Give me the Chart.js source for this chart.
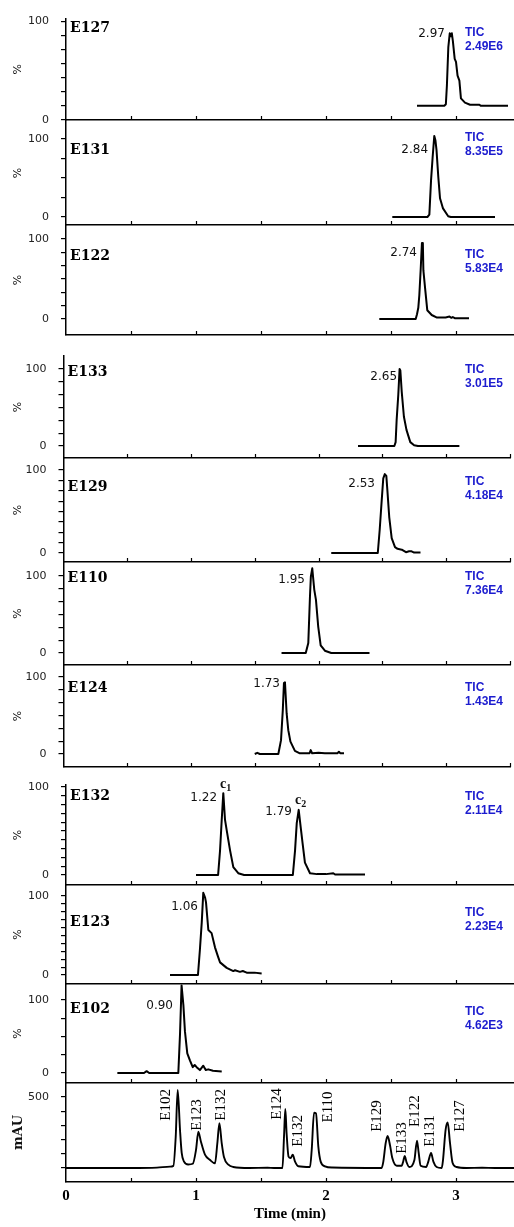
<!DOCTYPE html>
<html>
<head>
<meta charset="utf-8">
<title>Extracted ion chromatograms and UV trace</title>
<script src="https://cdn.jsdelivr.net/npm/chart.js@4.4.1/dist/chart.umd.min.js"></script>
<style>
  html, body { margin: 0; padding: 0; background: #fff; }
  #wrap { position: relative; width: 514px; height: 1227px; overflow: hidden; }
  #wrap canvas { position: absolute; left: 0; top: 0; }
</style>
</head>
<body>
<div id="wrap"></div>
<script>
// ---- data: retention time (min) and relative intensity (%) per extracted ion trace ----
const e127Time = [2.70, 2.91, 2.922, 2.93, 2.941, 2.952, 2.96, 2.968, 2.976, 2.99, 3.0, 3.012, 3.026, 3.038, 3.069, 3.108, 3.18, 3.19, 3.40];
const e127Pct  = [14.4, 14.4, 16, 35, 74, 88, 85, 88, 80, 62, 59, 45, 40, 22, 17.6, 15.5, 15.5, 14.4, 14.4];

const e131Time = [2.51, 2.78, 2.795, 2.808, 2.82, 2.833, 2.842, 2.85, 2.864, 2.877, 2.90, 2.94, 2.96, 3.30];
const e131Pct  = [0, 0, 3, 47, 76, 104, 98, 86, 51, 24, 11, 1, 0, 0];

const e122Time = [2.41, 2.69, 2.70, 2.71, 2.718, 2.728, 2.738, 2.745, 2.749, 2.762, 2.779, 2.813, 2.85, 2.92, 2.95, 2.965, 2.975, 2.99, 3.10];
const e122Pct  = [0, 0, 6, 14, 30, 61, 95, 95, 61, 39, 11, 5, 2, 2, 3, 1.5, 2.5, 1, 1];

const e133Time = [2.31, 2.595, 2.605, 2.613, 2.626, 2.636, 2.642, 2.653, 2.67, 2.69, 2.72, 2.75, 2.78, 3.105];
const e133Pct  = [0, 0, 5, 34, 67, 100, 98, 70, 38, 21, 5, 1, 0, 0];

const e129Time = [2.10, 2.465, 2.48, 2.496, 2.508, 2.52, 2.532, 2.54, 2.555, 2.574, 2.60, 2.62, 2.653, 2.686, 2.71, 2.73, 2.75, 2.80];
const e129Pct  = [0, 0, 28, 64, 90, 95, 93, 76, 43, 18, 7, 5, 4, 1, 2, 2, 0.5, 0.5];

const e110Time = [1.71, 1.90, 1.92, 1.933, 1.94, 1.951, 1.967, 1.98, 1.998, 2.017, 2.05, 2.10, 2.40];
const e110Pct  = [0, 0, 13, 73, 99, 110, 82, 69, 34, 10, 3, 0, 0];

const e124Time = [1.50, 1.52, 1.54, 1.685, 1.706, 1.72, 1.729, 1.737, 1.75, 1.763, 1.78, 1.815, 1.85, 1.93, 1.939, 1.95, 2.0, 2.05, 2.15, 2.16, 2.17, 2.20];
const e124Pct  = [0, 1.5, 0, 0, 18, 57, 92, 93, 53, 31, 16, 4, 1, 1, 5, 1, 1.5, 1, 1, 3, 1, 1];

const e132Time = [1.0, 1.17, 1.185, 1.198, 1.21, 1.223, 1.236, 1.262, 1.287, 1.325, 1.37, 1.745, 1.762, 1.775, 1.79, 1.808, 1.82, 1.838, 1.877, 1.93, 2.0, 2.056, 2.07, 2.30];
const e132Pct  = [0, 0, 28, 63, 93, 63, 51, 28, 9, 2, 0, 0, 28, 59, 74, 51, 36, 14, 2, 1, 1, 2, 0.5, 0.5];

const e123Time = [0.80, 1.015, 1.03, 1.044, 1.056, 1.07, 1.077, 1.095, 1.12, 1.146, 1.17, 1.185, 1.236, 1.287, 1.30, 1.338, 1.36, 1.39, 1.45, 1.505];
const e123Pct  = [0, 0, 32, 66, 104, 98, 92, 57, 53, 35, 23, 16, 9, 5, 6, 4, 5, 3, 3, 2];

const e102Time = [0.395, 0.60, 0.62, 0.64, 0.864, 0.877, 0.889, 0.903, 0.915, 0.933, 0.954, 0.975, 0.99, 1.005, 1.03, 1.056, 1.075, 1.095, 1.13, 1.198];
const e102Pct  = [0, 0, 2.5, 0, 0, 53, 120, 93, 57, 27, 17, 8, 11, 8, 4, 10, 4, 5, 3, 2];

// UV trace (mAU)
const uvTime = [0.0, 0.5, 0.70, 0.80, 0.826, 0.844, 0.859, 0.877, 0.89, 0.908, 0.94, 0.975, 1.0, 1.018, 1.038, 1.069, 1.108, 1.146,
  1.164, 1.18, 1.198, 1.215, 1.249, 1.287, 1.41, 1.55, 1.60, 1.665, 1.677, 1.687, 1.697, 1.712, 1.728, 1.744, 1.762, 1.787,
  1.877, 1.89, 1.908, 1.923, 1.941, 1.959, 1.992, 2.05, 2.428, 2.441, 2.459, 2.474, 2.492, 2.51, 2.544, 2.582, 2.595, 2.605,
  2.62, 2.64, 2.68, 2.70, 2.713, 2.728, 2.77, 2.787, 2.808, 2.826, 2.851, 2.89, 2.90, 2.92, 2.936, 2.954, 2.974, 3.005,
  3.08, 3.20, 3.30, 3.446];
const uvMau = [0, 0, 3, 10, 15, 220, 550, 268, 106, 45, 25, 30, 127, 256, 185, 94, 56, 33,
  173, 315, 173, 77, 23, 7, 0, 2, 0, 0, 220, 415, 244, 80, 70, 94, 45, 12,
  7, 127, 390, 385, 150, 45, 12, 3, 0, 45, 175, 225, 162, 70, 16, 16, 50, 85,
  40, 7, 56, 193, 106, 16, 7, 45, 106, 45, 7, 0, 56, 268, 320, 175, 35, 7,
  0, 2, 0, 0];

const compounds  = ['E127', 'E131', 'E122', 'E133', 'E129', 'E110', 'E124', 'E132', 'E123', 'E102'];
const ticValues  = ['2.49E6', '8.35E5', '5.83E4', '3.01E5', '4.18E4', '7.36E4', '1.43E4', '2.11E4', '2.23E4', '4.62E3'];
const rtLabels   = [['2.97'], ['2.84'], ['2.74'], ['2.65'], ['2.53'], ['1.95'], ['1.73'], ['1.22', '1.79'], ['1.06'], ['0.90']];
const traces = [
  [e127Time, e127Pct], [e131Time, e131Pct], [e122Time, e122Pct], [e133Time, e133Pct], [e129Time, e129Pct],
  [e110Time, e110Pct], [e124Time, e124Pct], [e132Time, e132Pct], [e123Time, e123Pct], [e102Time, e102Pct]
];
const uvPeakNames = ['E102', 'E123', 'E132', 'E124', 'E132', 'E110', 'E129', 'E133', 'E122', 'E131', 'E127'];

// ---- layout of each stacked panel (page pixels) ----
const frames = [
  { x0: 66,   ppm: 130,   right: 514, top: 13,  axisY: 120,  zeroY: 120,  refY: 16,   steps: 7,  nameY: 28,   ticY: 33,   rtAt: [[2.915, 87.5]] },
  { x0: 66,   ppm: 130,   right: 514, top: 121, axisY: 225,  zeroY: 217,  refY: 139,  steps: 4,  nameY: 150,  ticY: 138,  rtAt: [[2.785, 86]] },
  { x0: 66,   ppm: 130,   right: 514, top: 225, axisY: 335,  zeroY: 319,  refY: 239,  steps: 6,  nameY: 256,  ticY: 255,  rtAt: [[2.70, 82.5]] },
  { x0: 63.5, ppm: 127.5, right: 510, top: 356, axisY: 458,  zeroY: 446,  refY: 369,  steps: 6,  nameY: 372,  ticY: 370,  rtAt: [[2.616, 89.6]] },
  { x0: 63.5, ppm: 127.5, right: 510, top: 458, axisY: 562,  zeroY: 553,  refY: 470,  steps: 8,  nameY: 487,  ticY: 482,  rtAt: [[2.443, 83]] },
  { x0: 63.5, ppm: 127.5, right: 510, top: 562, axisY: 665,  zeroY: 653,  refY: 576,  steps: 6,  nameY: 578,  ticY: 577,  rtAt: [[1.894, 95]] },
  { x0: 63.5, ppm: 127.5, right: 510, top: 665, axisY: 767,  zeroY: 754,  refY: 677,  steps: 6,  nameY: 688,  ticY: 688,  rtAt: [[1.698, 91]] },
  { x0: 66,   ppm: 130,   right: 514, top: 785, axisY: 885,  zeroY: 875,  refY: 787,  steps: 10, nameY: 796,  ticY: 797,  rtAt: [[1.162, 87.5], [1.738, 71.6]],
    subs: [['c', '1', 1.185, 103], ['c', '2', 1.762, 85]] },
  { x0: 66,   ppm: 130,   right: 514, top: 885, axisY: 984,  zeroY: 975,  refY: 896,  steps: 10, nameY: 922,  ticY: 913,  rtAt: [[1.015, 86]] },
  { x0: 66,   ppm: 130,   right: 514, top: 984, axisY: 1083, zeroY: 1073, refY: 1000, steps: 4,  nameY: 1009, ticY: 1012, rtAt: [[0.823, 92]] }
];
const uvFrame = { x0: 66, ppm: 130, right: 514, top: 1083, axisY: 1182, zeroY: 1168, refY: 1097, steps: 5 };
const uvLabelAt = [[0.767, 444], [1.008, 373], [1.19, 444], [1.62, 451], [1.785, 261], [2.015, 430],
  [2.39, 366], [2.582, 211], [2.685, 401], [2.80, 261], [3.03, 366]];

const W = 514, H = 1227;
const TIC_BLUE = '#1c1ccf';
const wrap = document.getElementById('wrap');

function notesPlugin(f, draw) {
  return {
    id: 'panelNotes',
    afterDraw(chart) {
      const { ctx, chartArea: a, scales: { x, y } } = chart;
      ctx.save();
      // small x ticks pointing up from each panel's baseline
      ctx.strokeStyle = '#000';
      ctx.lineWidth = 1.2;
      x.ticks.forEach(t => {
        if (t.value === 0) return;
        const px = Math.round(x.getPixelForValue(t.value)) + 0.5;
        ctx.beginPath();
        ctx.moveTo(px, a.bottom);
        ctx.lineTo(px, a.bottom - 4);
        ctx.stroke();
      });
      if (draw) draw(ctx, a, x, y);
      ctx.restore();
    }
  };
}

function buildPanel(f, datasets, ref, yTitle, isBottom, draw) {
  const ppu = (f.zeroY - f.refY) / ref;
  const yTicks = [];
  for (let i = 0; i <= f.steps; i++) yTicks.push(ref * i / f.steps);

  const canvas = document.createElement('canvas');
  canvas.width = W;
  canvas.height = H;
  wrap.appendChild(canvas);

  new Chart(canvas, {
    type: 'line',
    data: { datasets },
    options: {
      responsive: false,
      animation: false,
      events: [],
      layout: { autoPadding: false, padding: { top: f.top, right: W - f.right, left: 0, bottom: 0 } },
      plugins: { legend: { display: false }, tooltip: { enabled: false } },
      scales: {
        x: {
          type: 'linear',
          min: 0,
          max: (f.right - f.x0) / f.ppm,
          afterFit: s => { s.height = H - f.axisY; },
          ticks: {
            display: isBottom,
            stepSize: 0.5,
            includeBounds: false,
            autoSkip: false,
            maxRotation: 0,
            padding: 5,
            color: '#000',
            font: { family: 'Liberation Serif', size: 15, weight: 'bold' },
            callback: v => Number.isInteger(v) ? String(v) : ''
          },
          grid: { display: false, drawTicks: false },
          border: { display: true, color: '#000', width: 1.5 },
          title: {
            display: isBottom,
            text: 'Time (min)',
            color: '#000',
            font: { family: 'Liberation Serif', size: 15, weight: 'bold' },
            padding: { top: 0, bottom: 4 }
          }
        },
        y: {
          type: 'linear',
          min: (f.zeroY - f.axisY) / ppu,
          max: (f.zeroY - f.top) / ppu,
          afterFit: s => { s.width = f.x0; },
          afterBuildTicks: s => { s.ticks = yTicks.map(v => ({ value: v })); },
          ticks: {
            autoSkip: false,
            padding: 12,
            color: '#222',
            font: { family: 'DejaVu Sans', size: 11 },
            callback: v => (v === ref || (v === 0 && !isBottom)) ? String(v) : ''
          },
          grid: { drawOnChartArea: false, drawTicks: true, tickLength: 5, color: '#000', lineWidth: 1.2 },
          border: { display: true, color: '#000', width: 1.5 },
          title: {
            display: true,
            text: yTitle,
            color: '#111',
            font: isBottom ? { family: 'DejaVu Serif', size: 13, weight: 'bold' } : { family: 'DejaVu Sans', size: 11 },
            padding: { top: isBottom ? 11 : 12, bottom: 0 }
          }
        }
      }
    },
    plugins: [notesPlugin(f, draw)]
  });
}

function traceSet(times, values, width, smooth) {
  return {
    data: times.map((t, i) => ({ x: t, y: values[i] })),
    borderColor: '#000',
    borderWidth: width,
    borderJoinStyle: 'round',
    pointRadius: 0,
    fill: false,
    tension: smooth ? 0.4 : 0,
    cubicInterpolationMode: smooth ? 'monotone' : 'default'
  };
}

// mass-spec panels
frames.forEach((f, k) => {
  const [times, pct] = traces[k];
  buildPanel(f, [traceSet(times, pct, 2, false)], 100, '%', false, (ctx, a, x, y) => {
    ctx.fillStyle = '#000';
    ctx.textBaseline = 'middle';
    ctx.textAlign = 'left';
    ctx.font = 'bold 14px "DejaVu Serif"';
    ctx.fillText(compounds[k], a.left + 4, f.nameY);

    ctx.fillStyle = TIC_BLUE;
    ctx.font = 'bold 12px "Liberation Sans"';
    ctx.fillText('TIC', 465, f.ticY);
    ctx.fillText(ticValues[k], 465, f.ticY + 14);

    ctx.fillStyle = '#111';
    ctx.textAlign = 'right';
    ctx.font = '12px "DejaVu Sans"';
    rtLabels[k].forEach((txt, j) => {
      const [t, v] = f.rtAt[j];
      ctx.fillText(txt, x.getPixelForValue(t), y.getPixelForValue(v));
    });

    if (f.subs) {
      ctx.textAlign = 'left';
      f.subs.forEach(([c, sub, t, v]) => {
        const px = x.getPixelForValue(t), py = y.getPixelForValue(v);
        ctx.font = 'bold 14px "Liberation Serif"';
        ctx.fillText(c, px, py);
        const cw = ctx.measureText(c).width;
        ctx.font = 'bold 10px "Liberation Serif"';
        ctx.fillText(sub, px + cw, py + 4);
      });
    }
  });
});

// UV panel at the bottom
buildPanel(uvFrame, [traceSet(uvTime, uvMau, 1.9, true)], 500, 'mAU', true, (ctx, a, x, y) => {
  ctx.fillStyle = '#000';
  ctx.font = '15px "Liberation Serif"';
  ctx.textAlign = 'center';
  ctx.textBaseline = 'middle';
  uvPeakNames.forEach((n, i) => {
    const [t, v] = uvLabelAt[i];
    ctx.save();
    ctx.translate(x.getPixelForValue(t), y.getPixelForValue(v));
    ctx.rotate(-Math.PI / 2);
    ctx.fillText(n, 0, 0);
    ctx.restore();
  });
});
</script>
</body>
</html>
